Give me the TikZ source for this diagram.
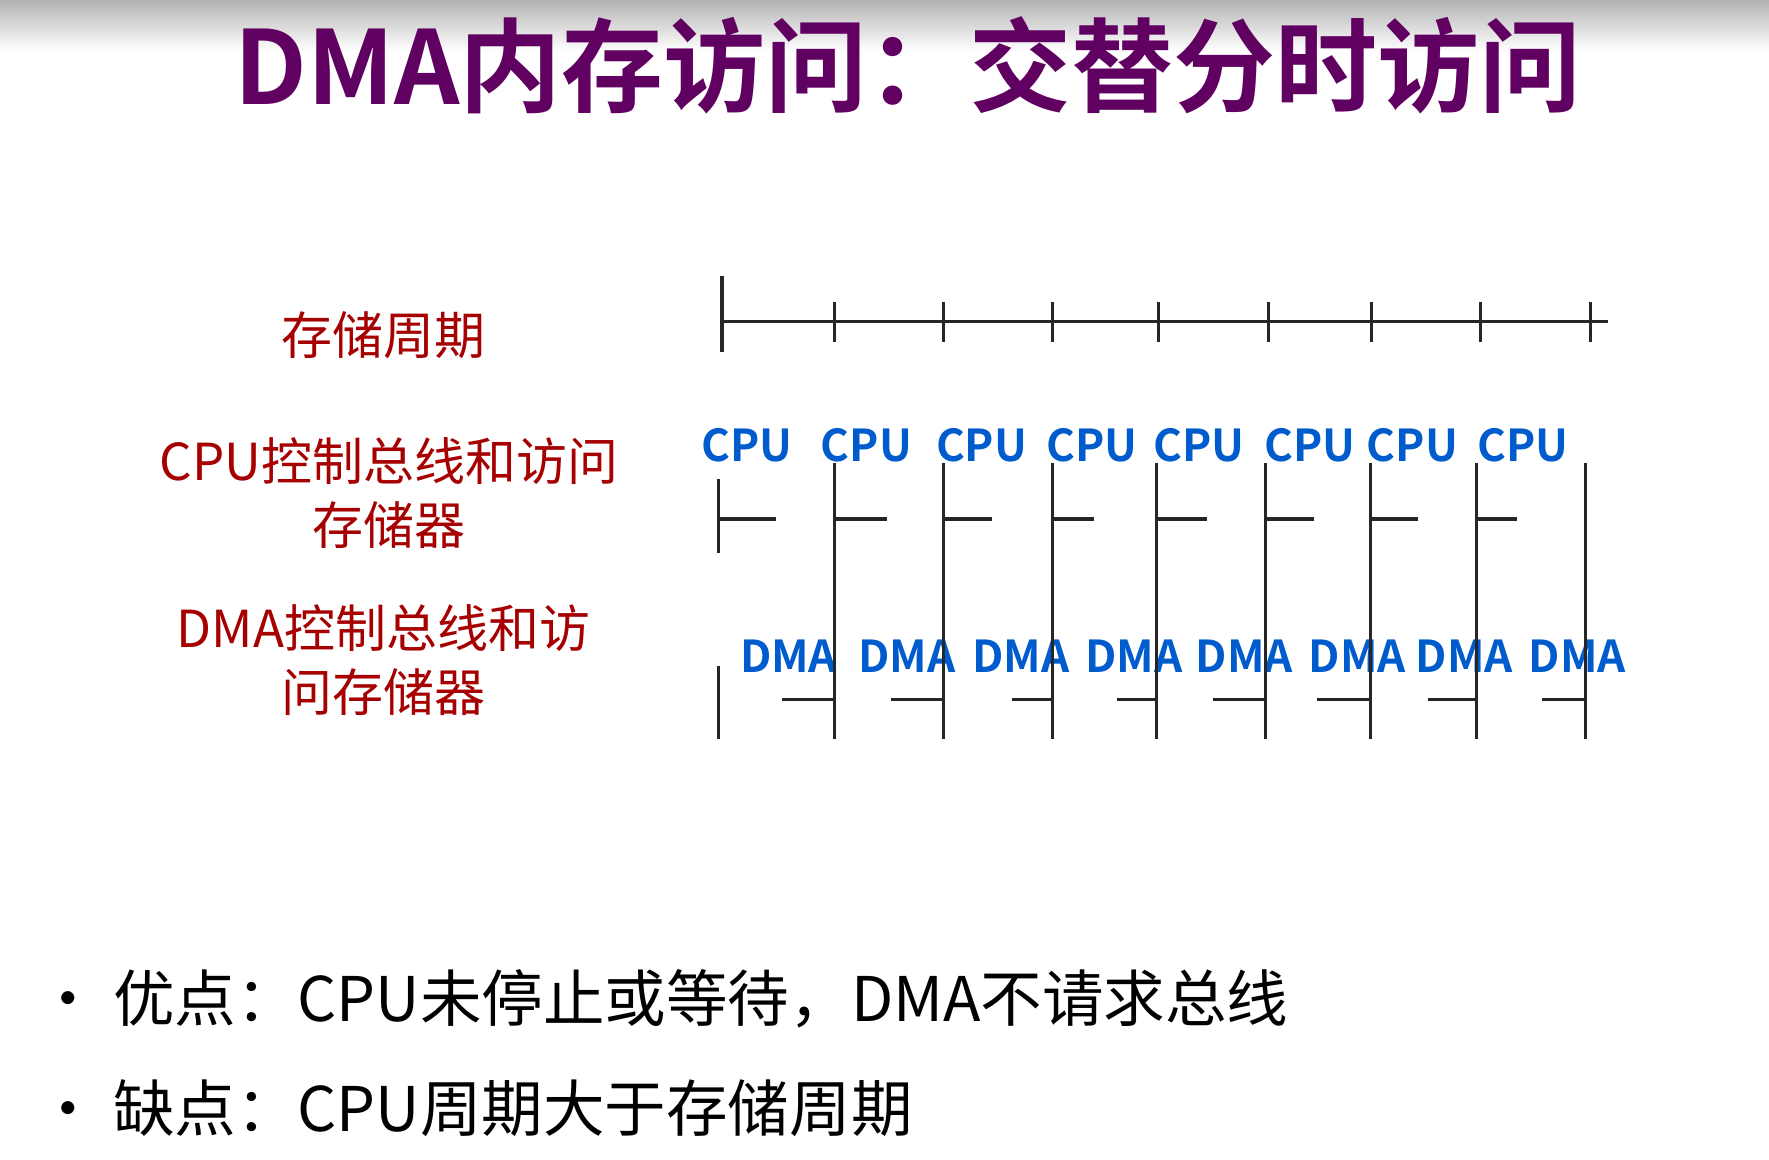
\documentclass[tikz,border=0pt]{standalone}
\usepackage{fontspec}
\setmainfont{Noto Sans CJK SC}
\newfontfamily\cjkb{Noto Sans CJK SC Bold}
\begin{document}
\begin{tikzpicture}[x=0.02256cm,y=-0.02256cm,
  ln/.style={line width=1.8pt,black!85},
  lab/.style={text=red!65!black,font=\fontsize{29}{36}\selectfont,align=center},
  cpu/.style={text=blue!55!cyan!80!black,font=\cjkb\fontsize{25}{30}\selectfont},
  bul/.style={anchor=west,font=\fontsize{35}{40}\selectfont}]
\useasboundingbox (0,0) rectangle (1568,1028);
\fill[white] (0,0) rectangle (1568,1028);
\shade[top color=black!30,bottom color=white] (0,0) rectangle (1568,45);
\node[font=\cjkb\fontsize{58}{64}\selectfont,text=violet!75!black] (title) at (805,58) {DMA内存访问：交替分时访问};
\node[lab] (l1) at (340,297) {存储周期};
\node[lab] (l2) at (345,437) {CPU控制总线和访问\\存储器};
\node[lab] (l3) at (340,585) {DMA控制总线和访\\问存储器};
% timeline
\coordinate (t0) at (638,285); \coordinate (t1) at (1425,285);
\draw[ln] (t0) -- (t1);
\draw[ln] (640,245) -- (640,312);
\foreach \x in {740,836,933,1027,1124,1216,1312,1410} \draw[ln] (\x,268) -- (\x,303);
% labels
\foreach \x [count=\i] in {662,768,870,968,1063,1161,1252,1350} \node[cpu] (c\i) at (\x,395) {CPU};
\foreach \x [count=\i] in {699,804,905,1005,1103,1203,1298,1398} \node[cpu] (d\i) at (\x,582) {DMA};
% verticals
\draw[ln] (637,425) -- (637,490);
\draw[ln] (637,590) -- (637,655);
\foreach \x in {740,836,933,1025,1122,1215,1309,1405} \draw[ln] (\x,410) -- (\x,655);
% horizontals
\foreach \a/\b in {637/688,740/786,836/879,933/970,1025/1070,1122/1165,1215/1257,1309/1345} \draw[ln] (\a,460) -- (\b,460);
\foreach \a/\b in {693/740,790/836,897/933,990/1025,1075/1122,1167/1215,1266/1309,1367/1405} \draw[ln] (\a,620) -- (\b,620);
\node[bul] (b1) at (28,885) {\textbullet\ 优点：CPU未停止或等待，DMA不请求总线};
\node[bul] (b2) at (28,982) {\textbullet\ 缺点：CPU周期大于存储周期};
\end{tikzpicture}
\end{document}
